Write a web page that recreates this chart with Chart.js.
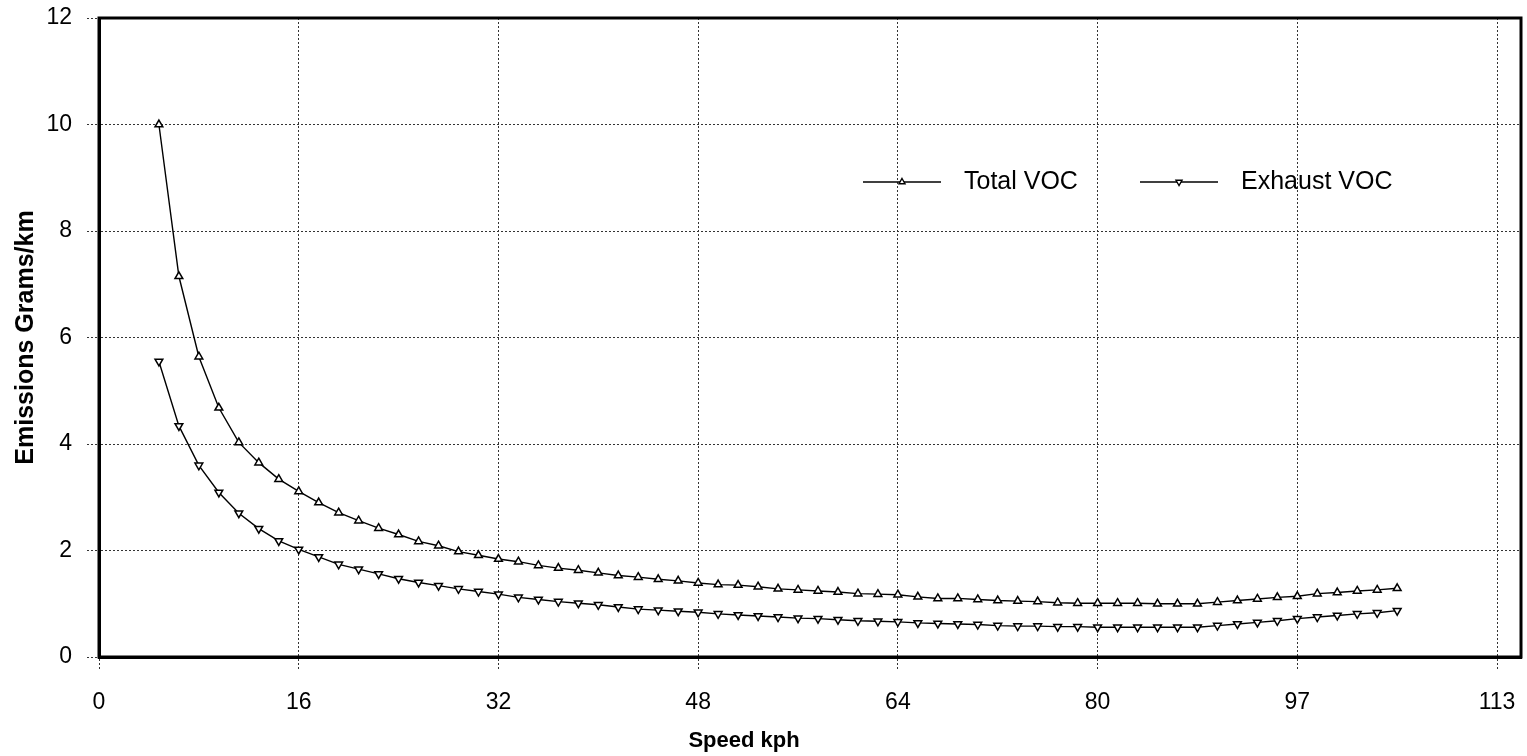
<!DOCTYPE html>
<html>
<head>
<meta charset="utf-8">
<title>VOC emissions by speed</title>
<script src="https://cdn.jsdelivr.net/npm/chart.js@4.4.1/dist/chart.umd.min.js"></script>
<style>
  html, body { margin: 0; padding: 0; background: #fff; }
</style>
</head>
<body>
<canvas id="vocChart" width="1527" height="756"></canvas>
<script>
// model runs in whole mph steps, the axis is labelled in kph
const speedsMph = [3, 4, 5, 6, 7, 8, 9, 10, 11, 12, 13, 14, 15, 16, 17, 18, 19, 20,
    21, 22, 23, 24, 25, 26, 27, 28, 29, 30, 31, 32, 33, 34, 35, 36, 37, 38, 39, 40,
    41, 42, 43, 44, 45, 46, 47, 48, 49, 50, 51, 52, 53, 54, 55, 56, 57, 58, 59, 60,
    61, 62, 63, 64, 65];

const totalVoc = [10.0, 7.15, 5.64, 4.68, 4.03, 3.65, 3.34, 3.11, 2.90, 2.71, 2.56, 2.42,
    2.30, 2.17, 2.09, 1.98, 1.91, 1.84, 1.79, 1.72, 1.67, 1.63, 1.58, 1.53, 1.50, 1.46,
    1.43, 1.39, 1.36, 1.35, 1.32, 1.28, 1.26, 1.24, 1.22, 1.19, 1.18, 1.17, 1.13, 1.10,
    1.10, 1.08, 1.06, 1.05, 1.04, 1.02, 1.01, 1.01, 1.01, 1.01, 1.00, 1.00, 1.00, 1.03,
    1.06, 1.09, 1.12, 1.14, 1.19, 1.21, 1.24, 1.26, 1.29];

const exhaustVoc = [5.55, 4.34, 3.60, 3.09, 2.70, 2.41, 2.18, 2.02, 1.88, 1.74, 1.65, 1.56,
    1.47, 1.40, 1.34, 1.28, 1.23, 1.18, 1.12, 1.08, 1.04, 1.01, 0.98, 0.94, 0.90, 0.88,
    0.86, 0.84, 0.81, 0.79, 0.77, 0.75, 0.73, 0.72, 0.70, 0.68, 0.67, 0.66, 0.64, 0.63,
    0.62, 0.61, 0.59, 0.58, 0.58, 0.57, 0.57, 0.56, 0.56, 0.56, 0.56, 0.56, 0.56, 0.59,
    0.62, 0.65, 0.68, 0.72, 0.75, 0.78, 0.81, 0.83, 0.87];

const kphLabels = ['0', '16', '32', '48', '64', '80', '97', '113'];

const FONT = '"Liberation Sans", Arial, sans-serif';
Chart.defaults.font.family = FONT;
Chart.defaults.color = '#000';

function points(values) {
    return speedsMph.map((s, i) => ({ x: s, y: values[i] }));
}

// heavy frame round the plot, inline legend and the x axis title
const frameAndLegend = {
    id: 'frameAndLegend',
    afterDraw(chart) {
        const { ctx, chartArea: a } = chart;
        ctx.save();
        ctx.strokeStyle = '#000';
        ctx.lineWidth = 3;
        ctx.strokeRect(a.left, a.top, a.right - a.left, a.bottom - a.top);

        const legendX = [863, 1140];
        const legendY = 182;
        ctx.font = '25px ' + FONT;
        ctx.textAlign = 'left';
        ctx.textBaseline = 'middle';
        chart.data.datasets.forEach((ds, i) => {
            const x0 = legendX[i];
            ctx.strokeStyle = '#000';
            ctx.lineWidth = 1.4;
            ctx.beginPath();
            ctx.moveTo(x0, legendY);
            ctx.lineTo(x0 + 78, legendY);
            ctx.stroke();
            ctx.fillStyle = '#fff';
            Chart.helpers.drawPoint(ctx, {
                pointStyle: 'triangle',
                rotation: ds.pointRotation || 0,
                radius: 3.5,
                borderWidth: 1.3
            }, x0 + 39, legendY);
            ctx.fillStyle = '#000';
            ctx.fillText(ds.label, x0 + 101, legendY);
        });

        ctx.font = 'bold 22px ' + FONT;
        ctx.textAlign = 'center';
        ctx.fillText('Speed kph', (a.left + a.right) / 2 - 66, 741);
        ctx.restore();
    }
};

const gridStyle = {
    color: '#333',
    lineWidth: 1,
    tickLength: 12,
    tickColor: '#333',
    tickBorderDash: [2, 2]
};

new Chart(document.getElementById('vocChart'), {
    type: 'line',
    data: {
        datasets: [{
            label: 'Total VOC',
            data: points(totalVoc),
            borderColor: '#000',
            borderWidth: 1.4,
            pointStyle: 'triangle',
            pointRadius: 4.5,
            pointBorderWidth: 1.5,
            pointBackgroundColor: '#fff',
            pointBorderColor: '#000'
        }, {
            label: 'Exhaust VOC',
            data: points(exhaustVoc),
            borderColor: '#000',
            borderWidth: 1.4,
            pointStyle: 'triangle',
            pointRotation: 180,
            pointRadius: 4.5,
            pointBorderWidth: 1.5,
            pointBackgroundColor: '#fff',
            pointBorderColor: '#000'
        }]
    },
    options: {
        responsive: false,
        animation: false,
        layout: { padding: { top: 18, right: 4, left: 0, bottom: 0 } },
        plugins: {
            legend: { display: false },
            tooltip: { enabled: false }
        },
        scales: {
            x: {
                type: 'linear',
                min: 0,
                max: 71.2,
                afterBuildTicks: s => { s.ticks = kphLabels.map((_, i) => ({ value: i * 10 })); },
                afterFit: s => {
                    s.height = 99;
                    s.paddingLeft = 0;
                    s.paddingRight = 0;
                },
                ticks: {
                    padding: 20,
                    maxRotation: 0,
                    font: { size: 23 },
                    callback: (v, i) => kphLabels[i]
                },
                grid: gridStyle,
                border: { color: '#000', width: 3, dash: [2, 2] }
            },
            y: {
                min: 0,
                max: 12,
                afterFit: s => {
                    s.width = 99;
                    s.paddingTop = 0;
                    s.paddingBottom = 0;
                },
                ticks: { stepSize: 2, padding: 15, font: { size: 23 } },
                title: {
                    display: true,
                    text: 'Emissions Grams/km',
                    font: { size: 25, weight: 'bold' },
                    padding: { top: 11, bottom: 0 }
                },
                grid: gridStyle,
                border: { color: '#000', width: 3, dash: [2, 2] }
            }
        }
    },
    plugins: [frameAndLegend]
});
</script>
</body>
</html>
